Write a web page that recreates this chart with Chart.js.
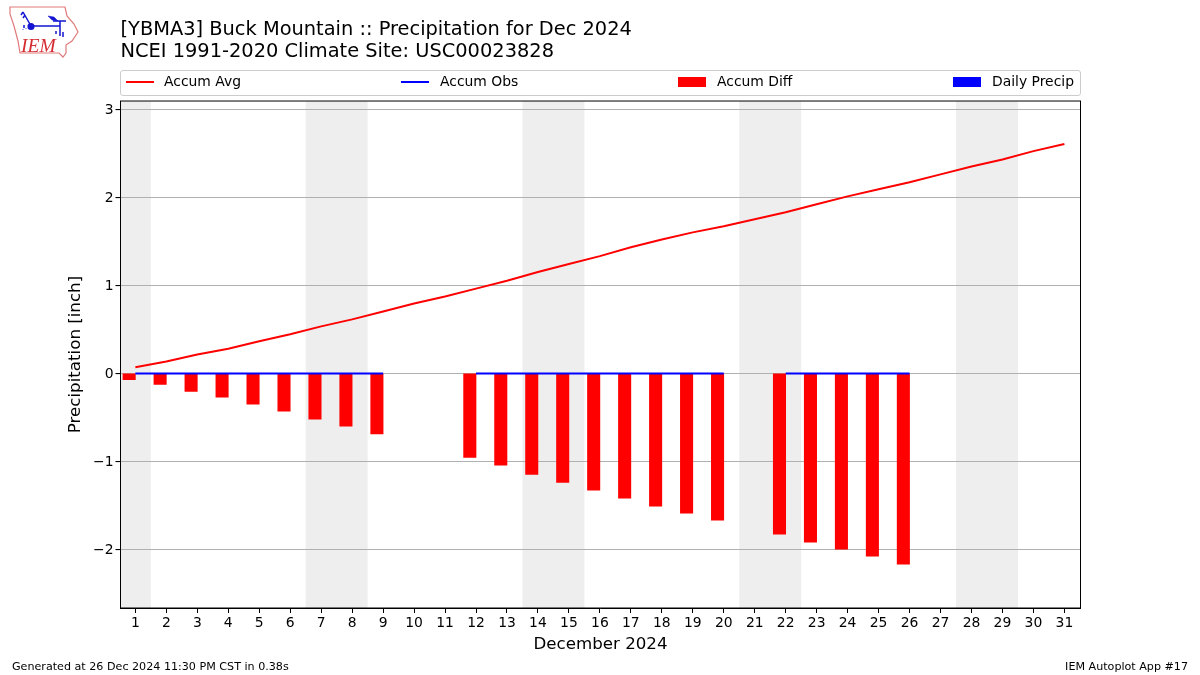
<!DOCTYPE html>
<html>
<head>
<meta charset="utf-8">
<title>Buck Mountain Precipitation</title>
<script src="https://cdn.jsdelivr.net/npm/chart.js@4"></script>
<style>
  html, body { margin: 0; padding: 0; background: #fff; }
  body { width: 1200px; height: 675px; overflow: hidden; position: relative; font-family: "DejaVu Sans", sans-serif; color: #000; }
  canvas { position: absolute; left: 0; top: 0; }
  #logo { position: absolute; left: 0; top: 0; }
  #legend { position: absolute; left: 120px; top: 70px; width: 959px; height: 24px; border: 1px solid #ccc; border-radius: 3px; box-sizing: content-box; }
  .lg-swatch { position: absolute; width: 28px; }
  .lg-swatch.line { height: 2px; top: 9.5px; }
  .lg-swatch.box { height: 9.5px; top: 6px; }
  .lg-text { position: absolute; top: 2px; font-size: 13.9px; line-height: 17px; white-space: nowrap; }
  .foot { position: absolute; top: 660px; font-size: 11.13px; line-height: 13px; white-space: nowrap; }
</style>
</head>
<body>
<canvas id="chart" width="1200" height="675"></canvas>

<svg id="logo" width="90" height="62" viewBox="0 0 90 62">
  <path d="M10 7 L65 7 L67 16 L74 24 L78 32 L72 41 L66 45 L66 53 L63 57 L59 53 L20 53 L18 41 L14 26 L10 14 Z" fill="none" stroke="#e07a7a" stroke-width="1.2"/>
  <g stroke="#1414d2" fill="#1414d2" stroke-width="1.5">
    <path d="M31 26 L60 26 M23 12 L31 26 M23 12 L21 15 M25 15 L23 18" fill="none"/>
    <circle cx="31" cy="26.5" r="2.8"/>
    <path d="M48 16 L54 17 L58 21 L52 20 Z" stroke-width="0.5"/>
    <path d="M53 21 L66 21 M60 21 L60 36 M56 31 L56 34 M63 32 L63 37" fill="none"/>
    <path d="M24 25 L24 28 M26 28 L26 28.5 M23 29 L23 29.5" fill="none"/>
  </g>
  <text x="21" y="52" font-family="Liberation Serif" font-style="italic" font-size="19.5" fill="#d62c33">IEM</text>
</svg>

<div id="legend">
  <div class="lg-swatch line" style="left:5px;background:#f00"></div>
  <div class="lg-text" style="left:43px">Accum Avg</div>
  <div class="lg-swatch line" style="left:280px;background:#00f"></div>
  <div class="lg-text" style="left:319px">Accum Obs</div>
  <div class="lg-swatch box" style="left:557px;background:#f00"></div>
  <div class="lg-text" style="left:596px">Accum Diff</div>
  <div class="lg-swatch box" style="left:832px;background:#00f"></div>
  <div class="lg-text" style="left:871px">Daily Precip</div>
</div>

<div class="foot" style="left:12px">Generated at 26 Dec 2024 11:30 PM CST in 0.38s</div>
<div class="foot" style="right:12px">IEM Autoplot App #17</div>

<script>
/* ══════════════════════════════════
   DATA
══════════════════════════════════ */
const days = [1,2,3,4,5,6,7,8,9,10,11,12,13,14,15,16,17,18,19,20,21,22,23,24,25,26,27,28,29,30,31];
const accumAvg = [0.07,0.135,0.215,0.28,0.365,0.445,0.535,0.615,0.705,0.795,0.875,0.965,1.055,1.155,1.245,1.335,
                  1.435,1.525,1.605,1.675,1.755,1.835,1.925,2.015,2.095,2.175,2.265,2.355,2.435,2.53,2.61];
const accumObs = [0,0,0,0,0,0,0,0,0,null,null,0,0,0,0,0,0,0,0,0,null,0,0,0,0,0,null,null,null,null,null];
const accumDiff = [-0.07,-0.125,-0.205,-0.27,-0.35,-0.43,-0.52,-0.60,-0.69,null,null,-0.955,-1.045,-1.15,-1.24,-1.33,
                   -1.42,-1.51,-1.59,-1.67,null,-1.83,-1.92,-2.00,-2.08,-2.17,null,null,null,null,null];
const dailyPrecip = [0,0,0,0,0,0,0,0,0,null,null,0,0,0,0,0,0,0,0,0,null,0,0,0,0,0,null,null,null,null,null];
const yTicks = [-2,-1,0,1,2,3];
const weekends = [[0.5,1.5],[6.5,8.5],[13.5,15.5],[20.5,22.5],[27.5,29.5]];
const titleLines = ['[YBMA3] Buck Mountain :: Precipitation for Dec 2024', 'NCEI 1991-2020 Climate Site: USC00023828'];

const pairs = vals => days.map((d, i) => ({ x: d, y: vals[i] }));

/* ══════════════════════════════════
   PLUGINS
══════════════════════════════════ */
const weekendBands = {
  id: 'weekendBands',
  beforeDraw(chart) {
    const { ctx, chartArea: a, scales: { x } } = chart;
    ctx.save();
    ctx.fillStyle = '#eeeeee';
    weekends.forEach(([s, e]) => {
      const l = Math.max(a.left, x.getPixelForValue(s)), r = x.getPixelForValue(e);
      ctx.fillRect(l, a.top, r - l, a.bottom - a.top);
    });
    ctx.restore();
  }
};

const frame = {
  id: 'frame',
  afterDraw(chart) {
    const { ctx, chartArea: a } = chart;
    ctx.save();
    ctx.strokeStyle = '#000';
    ctx.lineWidth = 1;
    ctx.strokeRect(a.left, a.top, a.right - a.left, a.bottom - a.top);
    ctx.restore();
  }
};

/* ══════════════════════════════════
   CHART
══════════════════════════════════ */
const FONT = '"DejaVu Sans"';

new Chart(document.getElementById('chart'), {
  type: 'bar',
  data: {
    datasets: [
      { type: 'line', label: 'Accum Avg', data: pairs(accumAvg), borderColor: '#f00', backgroundColor: '#f00',
        borderWidth: 2, pointRadius: 0, tension: 0, order: 1 },
      { type: 'line', label: 'Accum Obs', data: pairs(accumObs), borderColor: '#00f', backgroundColor: '#00f',
        borderWidth: 2, pointRadius: 0, tension: 0, spanGaps: false, order: 1 },
      { label: 'Accum Diff', data: pairs(accumDiff), backgroundColor: '#f00', barThickness: 12.4, order: 2 },
      // zero-height bars still leave a hairline on canvas, so only paint real rain
      { label: 'Daily Precip', data: pairs(dailyPrecip), barThickness: 12.4, order: 2,
        backgroundColor: c => (c.parsed && c.parsed.y > 0 ? '#00f' : 'transparent') }
    ]
  },
  options: {
    responsive: false,
    animation: false,
    layout: { padding: { left: 66, right: 119.5, top: 19, bottom: 20 } },
    plugins: {
      legend: { display: false },
      title: {
        display: true, text: titleLines, align: 'start', fullSize: false, color: '#000',
        font: { family: FONT, size: 19.4, weight: 'normal', lineHeight: 1.15 },
        padding: { top: 0, bottom: 37.4 }
      }
    },
    scales: {
      x: {
        type: 'linear', min: 0.52, max: 31.52, offset: false,
        afterBuildTicks: ax => { ax.ticks = days.map(d => ({ value: d })); },
        afterFit: ax => { ax.height = 47; },
        ticks: { color: '#000', font: { family: FONT, size: 13.9 }, padding: 2, maxRotation: 0, autoSkip: false,
                 callback: v => String(v) },
        grid: { drawOnChartArea: false, offset: false, color: '#000', tickColor: '#000', tickLength: 5 },
        border: { color: '#000', width: 1 },
        title: { display: true, text: 'December 2024', color: '#000', font: { family: FONT, size: 16.67 }, padding: 0 }
      },
      y: {
        min: -2.67, max: 3.1,
        afterBuildTicks: ax => { ax.ticks = yTicks.map(v => ({ value: v })); },
        afterFit: ax => { ax.width = 54.5; },
        ticks: { color: '#000', font: { family: FONT, size: 13.9 }, padding: 2, labelOffset: 1,
                 callback: v => String(v).replace('-', '\u2212') },
        grid: { color: '#b0b0b0', tickColor: '#000', tickLength: 5, lineWidth: 1.1 },
        border: { color: '#000', width: 1 },
        title: { display: true, text: 'Precipitation [inch]', color: '#000', font: { family: FONT, size: 16.67 }, padding: 0 }
      }
    }
  },
  plugins: [weekendBands, frame]
});
</script>
</body>
</html>
